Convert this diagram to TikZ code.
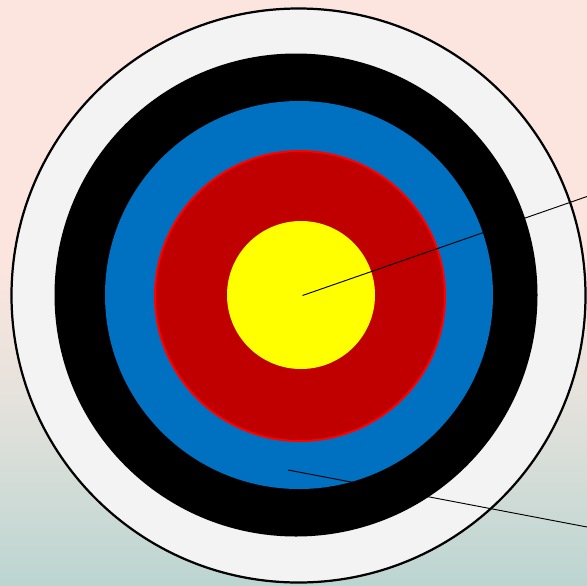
\documentclass[tikz,border=0pt]{standalone}
\usepackage{xcolor}
\usetikzlibrary{calc}

\definecolor{skytop}{RGB}{251,229,222}
\definecolor{skymid}{RGB}{229,226,220}
\definecolor{skybot}{RGB}{188,213,209}
\definecolor{ringwhite}{RGB}{243,243,243}
\definecolor{ringblue}{RGB}{0,112,192}
\definecolor{ringred}{RGB}{192,0,0}
\definecolor{ringyellow}{RGB}{255,255,0}

\pgfdeclareverticalshading{sky}{100bp}{color(0bp)=(skybot); color(25bp)=(skybot); color(41bp)=(skymid); color(52bp)=(skytop); color(100bp)=(skytop)}

\begin{document}
\begin{tikzpicture}[x=0.03cm, y=-0.03cm]

    % Custom style for the pointer lines
    \tikzset{
        pointer/.style={black, line width=0.8pt}
    }
    % ==========================================
    % Background
    % ==========================================
    \useasboundingbox (0,0) rectangle (587,585);
    \shade[shading=sky] (0,0) rectangle (587,585);

    % ==========================================
    % Target rings (outside in)
    % ==========================================
    \begin{scope}
        \fill[ringwhite, draw=black, line width=1.9pt] (298.5,295.5) circle (287);
        \fill[black] (296,295) circle (241.5);
        \fill[ringblue] (299,295) circle (194);
        \fill[ringred, draw=red, line width=1.7pt] (300,296) circle (145);
        \fill[ringyellow] (301,295) circle (74);
    \end{scope}

    % ==========================================
    % Pointer lines
    % ==========================================
    \coordinate (tipA) at (302.5,295.5);
    \coordinate (endA) at (587,196.5);
    \coordinate (tipB) at (288,470);
    \coordinate (endB) at (587,527);

    \draw[pointer] (tipA) -- (endA);
    \draw[pointer] (tipB) -- (endB);

\end{tikzpicture}
\end{document}
